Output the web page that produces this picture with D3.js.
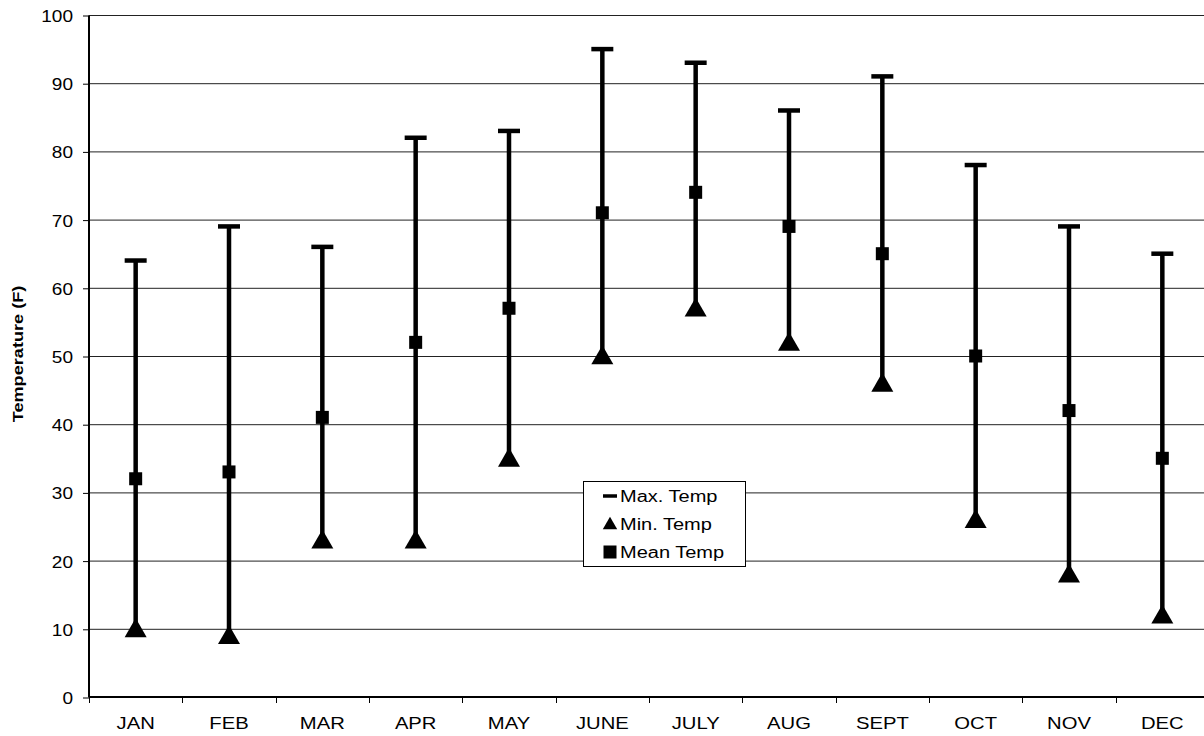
<!DOCTYPE html>
<html>
<head>
<meta charset="utf-8">
<script src="https://cdn.jsdelivr.net/npm/d3@7"></script>
<style>
  body { margin: 0; background: #fff; overflow: hidden; }
  text { font-family: "Liberation Sans", Arial, sans-serif; fill: #000; }
</style>
</head>
<body>
<div id="chartContainer"></div>
<script>
const months = ["JAN", "FEB", "MAR", "APR", "MAY", "JUNE", "JULY", "AUG", "SEPT", "OCT", "NOV", "DEC"];
const maxTemp = [64, 69, 66, 82, 83, 95, 93, 86, 91, 78, 69, 65];
const minTemp = [10, 9, 23, 23, 35, 50, 57, 52, 46, 26, 18, 12];
const meanTemp = [32, 33, 41, 52, 57, 71, 74, 69, 65, 50, 42, 35];
const yTicks = [0, 10, 20, 30, 40, 50, 60, 70, 80, 90, 100];

const data = months.map((m, i) => ({ month: m, max: maxTemp[i], min: minTemp[i], mean: meanTemp[i] }));

const width = 1204, height = 736;
const plot = { left: 89, right: 1209, top: 15, bottom: 697 };

const svg = d3.select("#chartContainer")
    .append("svg")
    .attr("width", width)
    .attr("height", height);

const xScale = d3.scaleBand()
    .domain(months)
    .range([plot.left, plot.right]);

const yScale = d3.scaleLinear()
    .domain([0, 100])
    .range([plot.bottom, plot.top]);

// gridlines
svg.append("g")
    .selectAll("line")
    .data(yTicks.filter(d => d > 0))
    .enter()
    .append("line")
    .attr("x1", plot.left)
    .attr("x2", plot.right)
    .attr("y1", d => yScale(d) + 0.5)
    .attr("y2", d => yScale(d) + 0.5)
    .attr("stroke", "#222")
    .attr("stroke-width", 1);

// Y axis
const yAxis = svg.append("g")
    .attr("transform", `translate(${plot.left},0.5)`)
    .call(d3.axisLeft(yScale).tickValues(yTicks).tickSize(6).tickPadding(8));
yAxis.select(".domain").attr("stroke", "#000").attr("stroke-width", 2).attr("d", `M0,${plot.top}V${plot.bottom}`);
yAxis.selectAll(".tick line").attr("stroke", "#000");
yAxis.selectAll("text")
    .style("font-size", "17px")
    .attr("transform", "scale(1.12,1)")
    .attr("x", -16 / 1.12)
    .attr("dy", "0.35em");

// X axis
const xAxis = svg.append("g")
    .attr("transform", `translate(0,${plot.bottom})`)
    .call(d3.axisBottom(xScale).tickSize(0).tickPadding(20));
xAxis.select(".domain").attr("stroke", "#000").attr("stroke-width", 2).attr("d", `M${plot.left},0H${plot.right}`);
xAxis.selectAll("text")
    .style("font-size", "17px")
    .attr("transform", "scale(1.19,1)");
svg.append("g")
    .selectAll("line")
    .data(d3.range(months.length + 1))
    .enter()
    .append("line")
    .attr("x1", i => Math.round(plot.left + i * xScale.step()) + 0.5)
    .attr("x2", i => Math.round(plot.left + i * xScale.step()) + 0.5)
    .attr("y1", plot.bottom)
    .attr("y2", plot.bottom + 6)
    .attr("stroke", "#000");

// Axis title
svg.append("text")
    .attr("transform", `translate(23,354) rotate(-90) scale(1.21,1)`)
    .attr("text-anchor", "middle")
    .style("font-size", "15px")
    .style("font-weight", "bold")
    .text("Temperature (F)");

const cx = d => xScale(d.month) + xScale.bandwidth() / 2;

// high-low lines
svg.append("g")
    .selectAll("line")
    .data(data)
    .enter()
    .append("line")
    .attr("x1", cx)
    .attr("x2", cx)
    .attr("y1", d => yScale(d.max))
    .attr("y2", d => yScale(d.min))
    .attr("stroke", "#000")
    .attr("stroke-width", 4.5);

// max caps
svg.append("g")
    .selectAll("line")
    .data(data)
    .enter()
    .append("line")
    .attr("x1", d => cx(d) - 11)
    .attr("x2", d => cx(d) + 11)
    .attr("y1", d => yScale(d.max))
    .attr("y2", d => yScale(d.max))
    .attr("stroke", "#000")
    .attr("stroke-width", 4.5);

// min triangles
const tri = d3.symbol().type(d3.symbolTriangle).size(210);
svg.append("g")
    .selectAll("path")
    .data(data)
    .enter()
    .append("path")
    .attr("d", tri)
    .attr("transform", d => `translate(${cx(d)},${yScale(d.min) + 2})`)
    .attr("fill", "#000");

// mean squares
svg.append("g")
    .selectAll("rect")
    .data(data)
    .enter()
    .append("rect")
    .attr("x", d => cx(d) - 6.5)
    .attr("y", d => yScale(d.mean) - 6.5)
    .attr("width", 13)
    .attr("height", 13)
    .attr("fill", "#000");

// legend
const legend = svg.append("g").attr("transform", "translate(583,481)");
legend.append("rect")
    .attr("x", 0.5).attr("y", 0.5)
    .attr("width", 162).attr("height", 85)
    .attr("fill", "#fff")
    .attr("stroke", "#000");
const items = ["Max. Temp", "Min. Temp", "Mean Temp"];
const rowY = i => 15 + i * 28;
legend.append("line")
    .attr("x1", 20).attr("x2", 34)
    .attr("y1", rowY(0)).attr("y2", rowY(0))
    .attr("stroke", "#000").attr("stroke-width", 3.5);
legend.append("path")
    .attr("d", d3.symbol().type(d3.symbolTriangle).size(90))
    .attr("transform", `translate(27,${rowY(1) + 1})`);
legend.append("rect")
    .attr("x", 20.5).attr("y", rowY(2) - 6.5)
    .attr("width", 13).attr("height", 13);
legend.selectAll("text.item")
    .data(items)
    .enter()
    .append("text")
    .attr("class", "item")
    .attr("transform", (d, i) => `translate(37,${rowY(i)}) scale(1.25,1)`)
    .attr("dy", "0.35em")
    .style("font-size", "16px")
    .text(d => d);
</script>
</body>
</html>
